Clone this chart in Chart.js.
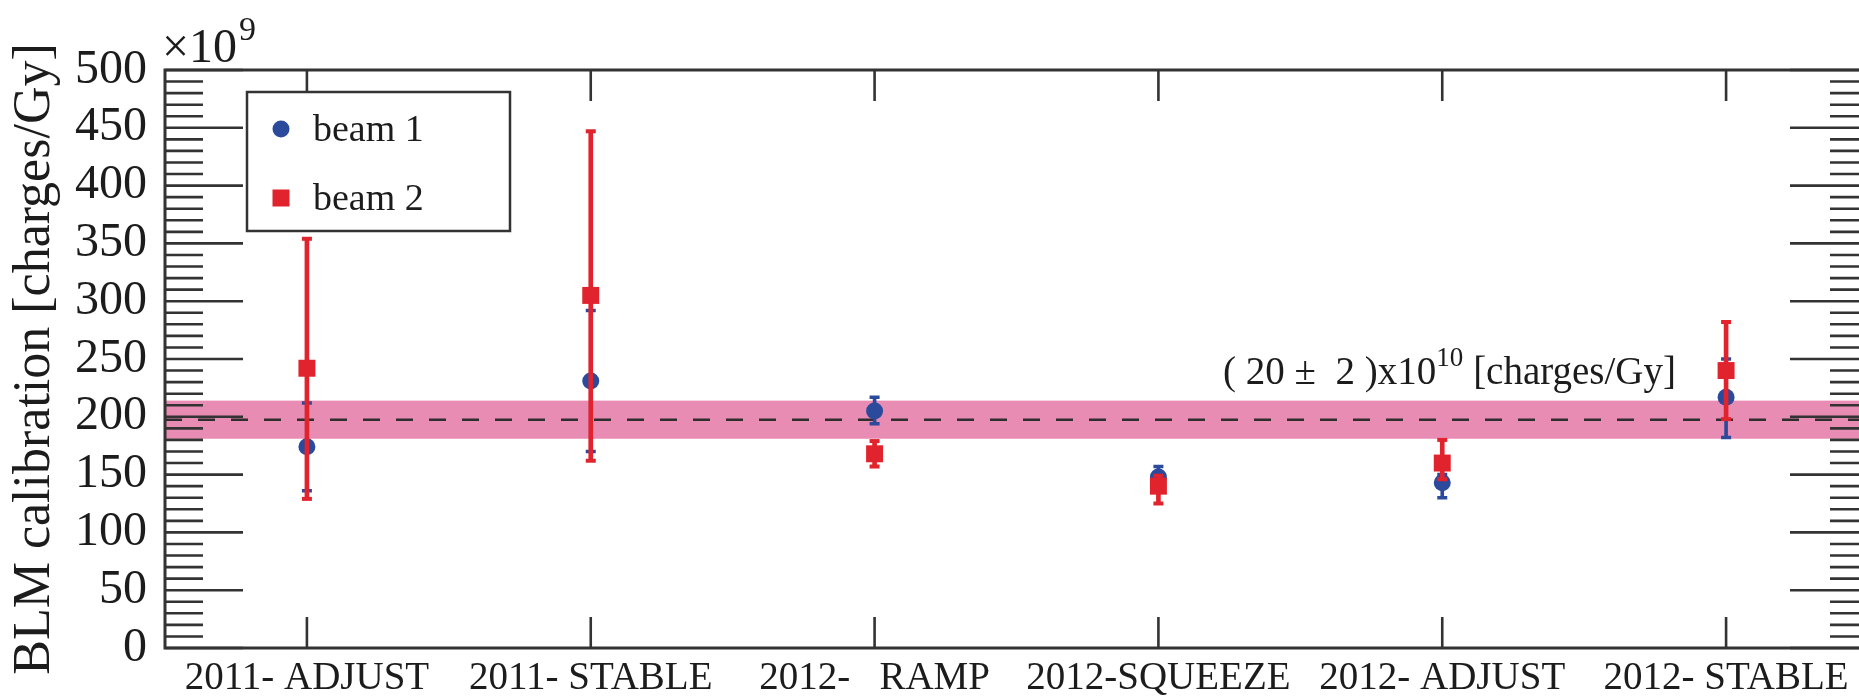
<!DOCTYPE html>
<html>
<head>
<meta charset="utf-8">
<script src="https://cdn.jsdelivr.net/npm/chart.js@4.4.0/dist/chart.umd.min.js"></script>
<style>
  html, body { margin: 0; padding: 0; background: #fff; overflow: hidden; }
  #wrap { width: 1880px; height: 699px; position: relative; }
</style>
</head>
<body>
<div id="wrap"><canvas id="calibChart"></canvas></div>
<script>
// values, in units of 1e9 charges/Gy
const categories = ['2011- ADJUST', '2011- STABLE', '2012-   RAMP', '2012-SQUEEZE', '2012- ADJUST', '2012- STABLE'];
const beam1 = [174, 231, 205, 148, 143, 217];
const beam1Lo = [136, 170, 194, 139, 130, 182];
const beam1Hi = [212, 292, 217, 157, 150, 250];
const beam2 = [242, 305, 168, 140, 160, 240];
const beam2Lo = [129, 162, 157, 125, 146, 198];
const beam2Hi = [354, 447, 179, 149, 180, 282];
const yTickValues = [0, 50, 100, 150, 200, 250, 300, 350, 400, 450, 500];
const refValue = 197.5;
const bandLow = 181;
const bandHigh = 214;

const SERIF = "'Liberation Serif', 'Times New Roman', serif";
const BLUE = '#2b4a9c';
const RED = '#e0232c';
const INK = '#1c1c1c';

const frameDecor = {
    id: 'frameDecor',
    beforeDatasetsDraw(chart) {
        const { ctx, chartArea: a, scales: { y } } = chart;
        ctx.save();
        // pink +-band around the mean
        const top = y.getPixelForValue(bandHigh);
        const bot = y.getPixelForValue(bandLow);
        ctx.fillStyle = 'rgba(229, 128, 171, 0.9)';
        ctx.fillRect(a.left, top, a.right - a.left, bot - top);
        // dashed mean line
        const yr = y.getPixelForValue(refValue);
        ctx.setLineDash([17, 16]);
        ctx.strokeStyle = '#2e2e2e';
        ctx.lineWidth = 2.5;
        ctx.beginPath();
        ctx.moveTo(a.left, yr);
        ctx.lineTo(a.right, yr);
        ctx.stroke();
        ctx.restore();
    },
    afterDraw(chart) {
        const { ctx, chartArea: a, scales: { x, y } } = chart;
        ctx.save();
        ctx.strokeStyle = '#333';

        // inward ticks on all four sides
        ctx.lineWidth = 2.6;
        ctx.beginPath();
        y.ticks.forEach(t => {
            const py = y.getPixelForValue(t.value);
            const len = t.value % 50 === 0 ? 78 : 38;
            ctx.moveTo(a.left, py); ctx.lineTo(a.left + len, py);
            ctx.moveTo(a.right, py); ctx.lineTo(a.right - len, py);
        });
        x.ticks.forEach((t, i) => {
            const px = x.getPixelForTick(i);
            ctx.moveTo(px, a.bottom); ctx.lineTo(px, a.bottom - 31);
            ctx.moveTo(px, a.top); ctx.lineTo(px, a.top + 31);
        });
        ctx.stroke();

        // frame
        ctx.lineWidth = 3;
        ctx.strokeRect(a.left, a.top, a.right - a.left, a.bottom - a.top);

        // x10^9 multiplier
        ctx.fillStyle = INK;
        ctx.textBaseline = 'alphabetic';
        ctx.textAlign = 'left';
        ctx.font = '48px ' + SERIF;
        ctx.fillText('\u00d710', a.left - 3, a.top - 8);
        const w = ctx.measureText('\u00d710').width;
        ctx.font = '34px ' + SERIF;
        ctx.fillText('9', a.left - 1 + w, a.top - 30);

        // annotation of the mean value
        const by = y.getPixelForValue(228);
        let tx = a.left + 1058;
        ctx.font = '39px ' + SERIF;
        const p1 = '( 20 \u00b1  2 )x10';
        ctx.fillText(p1, tx, by);
        tx += ctx.measureText(p1).width;
        ctx.font = '27px ' + SERIF;
        ctx.fillText('10', tx, by - 18);
        tx += ctx.measureText('10').width + 10;
        ctx.font = '39px ' + SERIF;
        ctx.fillText('[charges/Gy]', tx, by);

        // legend box
        const lx = a.left + 82, ly = a.top + 22, lw = 263, lh = 139;
        ctx.fillStyle = '#fff';
        ctx.fillRect(lx, ly, lw, lh);
        ctx.lineWidth = 2.5;
        ctx.strokeRect(lx, ly, lw, lh);
        const entries = chart.data.datasets.filter(d => d.legendEntry);
        entries.forEach((d, i) => {
            const cy = ly + 37 + i * 69;
            const cx = lx + 34;
            ctx.fillStyle = d.pointBackgroundColor;
            if (d.pointStyle === 'rect') {
                ctx.fillRect(cx - 8.5, cy - 8.5, 17, 17);
            } else {
                ctx.beginPath();
                ctx.arc(cx, cy, 8.5, 0, Math.PI * 2);
                ctx.fill();
            }
            ctx.fillStyle = INK;
            ctx.font = '38px ' + SERIF;
            ctx.fillText(d.label, lx + 66, cy + 12);
        });
        ctx.restore();
    }
};

const ctxCalib = document.getElementById('calibChart').getContext('2d');
const calibChart = new Chart(ctxCalib, {
    data: {
        labels: categories,
        datasets: [
            // beam 1 (drawn first)
            {
                type: 'bar',
                label: 'beam 1 err',
                data: beam1Lo.map((lo, i) => [lo, beam1Hi[i]]),
                backgroundColor: BLUE,
                barThickness: 3,
                grouped: false,
                order: 8
            },
            {
                type: 'line', label: 'beam 1 lo', data: beam1Lo, showLine: false,
                pointStyle: 'line', pointRadius: 5, pointBorderWidth: 3.5,
                pointBorderColor: BLUE, order: 7
            },
            {
                type: 'line', label: 'beam 1 hi', data: beam1Hi, showLine: false,
                pointStyle: 'line', pointRadius: 5, pointBorderWidth: 3.5,
                pointBorderColor: BLUE, order: 6
            },
            {
                type: 'line',
                label: 'beam 1',
                legendEntry: true,
                data: beam1,
                showLine: false,
                pointStyle: 'circle',
                pointRadius: 8.5,
                pointBorderWidth: 0,
                pointBackgroundColor: BLUE,
                order: 5
            },
            // beam 2 (on top)
            {
                type: 'bar',
                label: 'beam 2 err',
                data: beam2Lo.map((lo, i) => [lo, beam2Hi[i]]),
                backgroundColor: RED,
                barThickness: 4,
                grouped: false,
                order: 4
            },
            {
                type: 'line', label: 'beam 2 lo', data: beam2Lo, showLine: false,
                pointStyle: 'line', pointRadius: 5, pointBorderWidth: 4,
                pointBorderColor: RED, order: 3
            },
            {
                type: 'line', label: 'beam 2 hi', data: beam2Hi, showLine: false,
                pointStyle: 'line', pointRadius: 5, pointBorderWidth: 4,
                pointBorderColor: RED, order: 2
            },
            {
                type: 'line',
                label: 'beam 2',
                legendEntry: true,
                data: beam2,
                showLine: false,
                pointStyle: 'rect',
                pointRadius: 12,
                pointBorderWidth: 0,
                pointBackgroundColor: RED,
                order: 1
            }
        ]
    },
    options: {
        responsive: true,
        maintainAspectRatio: false,
        animation: false,
        layout: { padding: { top: 70, right: 10, left: 0, bottom: 0 } },
        plugins: {
            legend: { display: false },
            tooltip: { enabled: false }
        },
        scales: {
            x: {
                type: 'category',
                offset: true,
                grid: { display: false, drawTicks: false },
                border: { display: false },
                ticks: {
                    color: INK,
                    padding: 7,
                    maxRotation: 0,
                    autoSkip: false,
                    font: { family: SERIF, size: 39 }
                },
                afterFit(scale) { scale.height = 51; }
            },
            y: {
                min: 0,
                max: 500,
                grid: { display: false, drawTicks: false },
                border: { display: false },
                ticks: {
                    stepSize: 10,
                    autoSkip: false,
                    color: INK,
                    padding: 18,
                    font: { family: SERIF, size: 48 },
                    callback: v => yTickValues.includes(v) ? String(v) : ''
                },
                title: {
                    display: true,
                    text: 'BLM calibration [charges/Gy]',
                    color: INK,
                    padding: { top: 4, bottom: 0 },
                    font: { family: SERIF, size: 52 }
                },
                afterFit(scale) { scale.width = 165; }
            }
        }
    },
    plugins: [frameDecor]
});
</script>
</body>
</html>
